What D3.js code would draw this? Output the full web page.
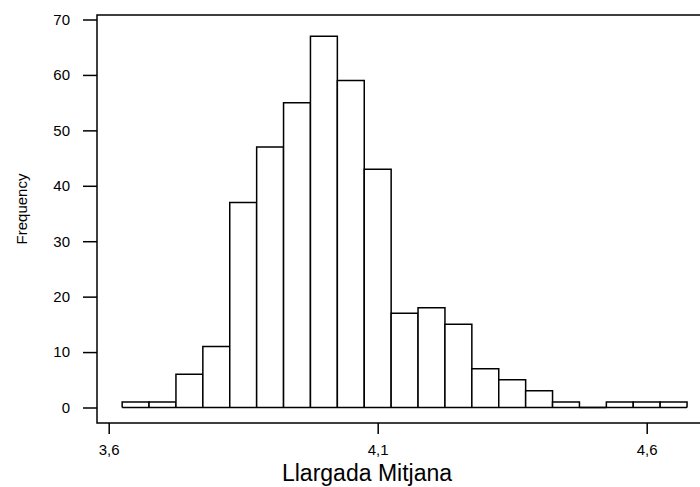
<!DOCTYPE html>
<html lang="en">
<head>
<meta charset="UTF-8">
<title>Llargada Mitjana histogram</title>
<script src="https://d3js.org/d3.v7.min.js"></script>
<style>
  body { margin: 0; background: #fff; }
  text { font-family: "Liberation Sans", Arial, sans-serif; fill: #000; }
</style>
</head>
<body>
<div id="chart"></div>
<script>
// bins of width 0.05 starting at 3.625, counts
const binStart = 3.625;
const binWidth = 0.05;
const counts = [1, 1, 6, 11, 37, 47, 55, 67, 59, 43, 17, 18, 15, 7, 5, 3, 1, 0, 1, 1, 1];
const xTicks = [3.6, 4.1, 4.6];
const xTickLabels = ['3,6', '4,1', '4,6'];
const yTicks = [0, 10, 20, 30, 40, 50, 60, 70];

const width = 700, height = 487;
const font = '"Liberation Sans", Arial, sans-serif';

const svg = d3.select('#chart').append('svg')
    .attr('width', width)
    .attr('height', height);

// scales
const x = d3.scaleLinear().domain([3.6, 4.6]).range([108.7, 646.7]);
const y = d3.scaleLinear().domain([0, 70]).range([407.5, 19.5]);

// frame (open on the right, runs off the picture)
const frame = { left: 97, top: 15, right: 701, bottom: 423 };
svg.append('path')
    .attr('d', `M${frame.right},${frame.top}H${frame.left}V${frame.bottom}H${frame.right}`)
    .attr('fill', 'none')
    .attr('stroke', '#000')
    .attr('stroke-width', 1.5);

// y axis ticks outside the frame
const yAxis = svg.append('g')
    .attr('transform', `translate(${frame.left},0)`)
    .attr('font-size', 15)
    .attr('font-family', font)
    .call(d3.axisLeft(y).tickValues(yTicks).tickSize(14).tickPadding(13).tickFormat(d3.format('d')));
yAxis.select('.domain').remove();
yAxis.selectAll('line').attr('stroke', '#000').attr('stroke-width', 1.5);
yAxis.selectAll('text').style('font-size', '15px');

// x axis ticks below the frame
const xAxis = svg.append('g')
    .attr('transform', `translate(0,${frame.bottom})`)
    .attr('font-size', 15)
    .attr('font-family', font)
    .call(d3.axisBottom(x).tickValues(xTicks).tickSize(11).tickPadding(10)
        .tickFormat((d, i) => xTickLabels[i]));
xAxis.select('.domain').remove();
xAxis.selectAll('line').attr('stroke', '#000').attr('stroke-width', 1.5);
xAxis.selectAll('text').style('font-size', '15px');

// bars
const bars = svg.append('g');
bars.selectAll('path')
    .data(counts)
    .enter()
    .append('path')
    .attr('d', (d, i) => {
        const x0 = x(binStart + i * binWidth);
        const x1 = x(binStart + (i + 1) * binWidth);
        return `M${x0},${y(0)}V${y(d)}H${x1}V${y(0)}`;
    })
    .attr('fill', '#fff')
    .attr('stroke', '#000')
    .attr('stroke-width', 1.5);

// base line under all bins (shows the empty bin as a flat line)
bars.append('line')
    .attr('x1', x(binStart))
    .attr('x2', x(binStart + counts.length * binWidth))
    .attr('y1', y(0))
    .attr('y2', y(0))
    .attr('stroke', '#000')
    .attr('stroke-width', 1.5);

// axis titles
svg.append('text')
    .attr('x', 367)
    .attr('y', 481)
    .attr('text-anchor', 'middle')
    .style('font-size', '23px')
    .text('Llargada Mitjana');

svg.append('text')
    .attr('transform', 'translate(27,209) rotate(-90)')
    .attr('text-anchor', 'middle')
    .style('font-size', '15px')
    .text('Frequency');
</script>
</body>
</html>
